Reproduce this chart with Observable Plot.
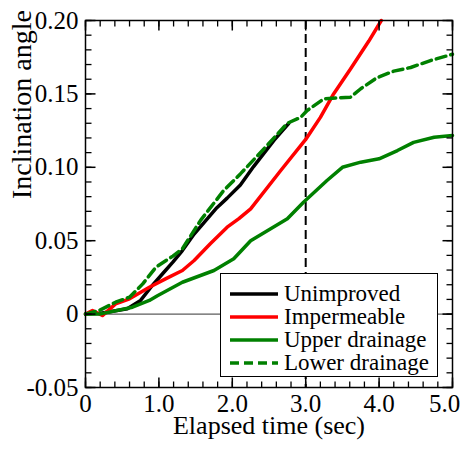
<!DOCTYPE html>
<html>
<head>
<meta charset="utf-8">
<script src="https://cdn.jsdelivr.net/npm/d3@7"></script>
<script src="https://cdn.jsdelivr.net/npm/@observablehq/plot@0.6"></script>
<style>
  body { margin: 0; background: white; }
  #wrap { position: relative; width: 470px; height: 450px; }
  #legend { position: absolute; left: 220px; top: 273px; width: 216px; height: 102px;
    border: 1.5px solid black; background: white; box-sizing: content-box;
    font-family: "Liberation Serif", "Times New Roman", serif; font-size: 23px; }
  .row { position: absolute; left: 0; height: 23px; display: flex; align-items: center; }
  .row svg { margin-left: 9px; margin-right: 6px; }
</style>
</head>
<body>
<div id="wrap"><div id="legend"></div></div>
<script>
// ---- data ----
const seriesNames = ["Unimproved", "Impermeable", "Upper drainage", "Lower drainage"];
const seriesColors = ["black", "#ff0000", "#008000", "#008000"];
const seriesDash = [null, null, null, "10,5"];

const unimprovedT = [0, 0.21, 0.57, 0.75, 0.91, 1.05, 1.19, 1.32, 1.48, 1.79, 1.93, 2.11, 2.29, 2.57, 2.77];
const unimprovedV = [0, 0.0006, 0.0036, 0.0093, 0.0195, 0.0275, 0.0354, 0.0433, 0.0545, 0.0725, 0.0790, 0.0880, 0.1005, 0.1185, 0.130];

const impermeableT = [0, 0.095, 0.23, 0.41, 0.6, 0.87, 1.09, 1.32, 1.48, 1.70, 1.93, 2.09, 2.25, 2.66, 3.0, 3.2, 3.38, 3.61, 3.86, 4.03];
const impermeableV = [0, 0.0025, -0.001, 0.007, 0.0104, 0.0183, 0.024, 0.0297, 0.0365, 0.0479, 0.0592, 0.065, 0.0717, 0.0978, 0.119, 0.134, 0.150, 0.167, 0.186, 0.2];

const upperT = [0, 0.19, 0.64, 0.87, 0.98, 1.32, 1.75, 2.02, 2.25, 2.75, 2.97, 3.29, 3.5, 3.75, 4.0, 4.25, 4.47, 4.75, 5.0];
const upperV = [0, 0, 0.0047, 0.0093, 0.0125, 0.0217, 0.0297, 0.0377, 0.050, 0.065, 0.0762, 0.091, 0.100, 0.1035, 0.1058, 0.1114, 0.117, 0.1205, 0.1217];

const lowerT = [0, 0.19, 0.41, 0.6, 0.78, 0.96, 1.19, 1.32, 1.57, 1.88, 2.11, 2.43, 2.75, 2.93, 3.02, 3.25, 3.61, 3.75, 3.97, 4.2, 4.43, 4.7, 5.0];
const lowerV = [0, 0.0025, 0.0081, 0.0115, 0.0206, 0.032, 0.0395, 0.0445, 0.0640, 0.0840, 0.0955, 0.1125, 0.1300, 0.134, 0.1387, 0.1467, 0.1478, 0.1535, 0.161, 0.1655, 0.168, 0.1727, 0.177];

const xTicks = [0, 1, 2, 3, 4, 5];
const xTickLabels = ["0", "1.0", "2.0", "3.0", "4.0", "5.0"];
const yTicks = [-0.05, 0, 0.05, 0.1, 0.15, 0.2];
const yTickLabels = ["-0.05", "0", "0.05", "0.10", "0.15", "0.20"];
const markerTime = 3.0;

const xLabel = "Elapsed time (sec)";
const yLabel = "Inclination angle";

// ---- build ----
const W = 470, H = 450, mL = 85, mR = 18, mT = 20, mB = 63;
const majorLen = 10, minorLen = 6;

const allT = [unimprovedT, impermeableT, upperT, lowerT];
const allV = [unimprovedV, impermeableV, upperV, lowerV];
const rows = [];
allT.forEach((ts, s) => ts.forEach((t, i) => rows.push({series: seriesNames[s], t, v: allV[s][i]})));

const xMinor = d3.range(0, 5.0001, 0.2);
const yMinor = d3.range(-0.05, 0.2001, 0.01);
const font = "'Liberation Serif', 'Times New Roman', serif";

const lineMarks = seriesNames.map((name, s) =>
  Plot.line(rows.filter(r => r.series === name), {
    x: "t", y: "v", stroke: seriesColors[s], strokeWidth: 3.5,
    strokeDasharray: seriesDash[s] || undefined
  })
);

const xLab = d => xTickLabels[xTicks.indexOf(d)];
const yLab = d => yTickLabels[yTicks.indexOf(d)];

// tick glyphs: a short segment pointing into the frame
const seg = (dx, dy) => ({draw(ctx) { ctx.moveTo(0, 0); ctx.lineTo(dx, dy); }});
function frameTicks(values, len, sw) {
  const o = {stroke: "black", strokeWidth: sw, fill: "none", r: 1};
  return [
    Plot.dot(values, {...o, x: d => d, frameAnchor: "bottom", symbol: seg(0, -len)}),
    Plot.dot(values, {...o, x: d => d, frameAnchor: "top", symbol: seg(0, len)})
  ];
}
function frameTicksY(values, len, sw) {
  const o = {stroke: "black", strokeWidth: sw, fill: "none", r: 1};
  return [
    Plot.dot(values, {...o, y: d => d, frameAnchor: "left", symbol: seg(len, 0)}),
    Plot.dot(values, {...o, y: d => d, frameAnchor: "right", symbol: seg(-len, 0)})
  ];
}

const chart = Plot.plot({
  width: W, height: H,
  marginLeft: mL, marginRight: mR, marginTop: mT, marginBottom: mB,
  style: {fontFamily: font, fontSize: "25px", background: "white", color: "black", overflow: "visible"},
  x: {domain: [0, 5], axis: null},
  y: {domain: [-0.05, 0.2], axis: null},
  marks: [
    Plot.ruleY([0], {stroke: "#333", strokeWidth: 1}),
    Plot.ruleX([markerTime], {stroke: "black", strokeWidth: 2, strokeDasharray: "9,5"}),
    ...lineMarks,
    ...frameTicks(xMinor, minorLen, 1.3),
    ...frameTicks(xTicks, majorLen, 1.5),
    ...frameTicksY(yMinor, minorLen, 1.3),
    ...frameTicksY(yTicks, majorLen, 1.5),
    Plot.text(xTicks.slice(0, 5), {x: d => d, text: xLab, frameAnchor: "bottom", lineAnchor: "top", dy: 7, fontSize: 25}),
    Plot.text(xTicks.slice(5), {x: d => d, text: xLab, frameAnchor: "bottom", lineAnchor: "top", dy: 7, dx: -8, fontSize: 25}),
    Plot.text(yTicks, {y: d => d, text: yLab, frameAnchor: "left", textAnchor: "end", dx: -7, fontSize: 25}),
    Plot.text([xLabel], {frameAnchor: "bottom", dy: 46, fontSize: 26, text: d => d}),
    Plot.text([yLabel], {frameAnchor: "left", dx: -63, dy: -5, rotate: -90, fontSize: 28, text: d => d}),
    Plot.frame({stroke: "black", strokeWidth: 1.5})
  ]
});
const wrap = document.getElementById("wrap");
wrap.insertBefore(chart, wrap.firstChild);

// legend
const legend = document.getElementById("legend");
seriesNames.forEach((name, s) => {
  const row = document.createElement("div");
  row.className = "row";
  row.style.top = (8 + s * 23) + "px";
  const dash = seriesDash[s] ? `stroke-dasharray="9,5"` : "";
  row.innerHTML = `<svg width="48" height="6"><line x1="0" y1="3" x2="48" y2="3" stroke="${seriesColors[s]}" stroke-width="3.5" ${dash}/></svg><span>${name}</span>`;
  legend.appendChild(row);
});
</script>
</body>
</html>
